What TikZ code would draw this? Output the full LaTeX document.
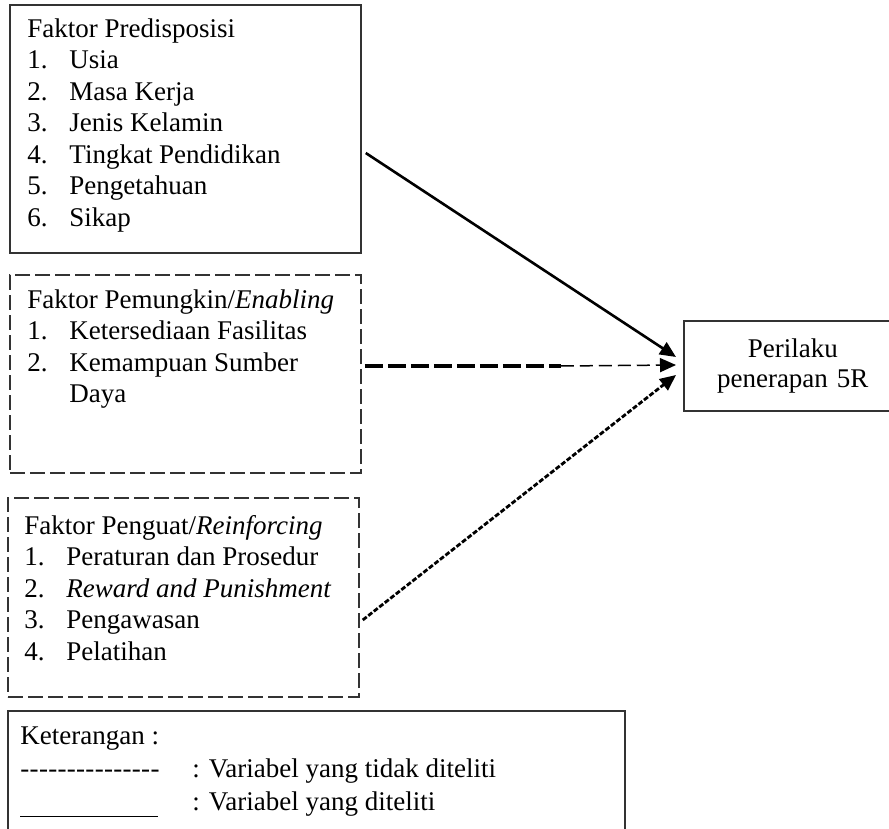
\documentclass[tikz,border=0pt]{standalone}
\usepackage{fontspec}
\setmainfont{Liberation Serif}
\usetikzlibrary{arrows.meta, positioning, calc}

\newcommand{\hy}{-\kern0.3pt}

\begin{document}
\begin{tikzpicture}[x=1pt, y=-1pt,
    every node/.style={inner sep=0pt, font=\fontsize{27}{31.5}\selectfont},
    factorbox/.style={draw=black!80, line width=1.5pt, minimum width=351pt},
    dashbox/.style={factorbox, dash pattern=on 15pt off 5pt},
    arrowtip/.style={-{Triangle[length=16pt, width=14pt]}},
  ]
  \clip (0,0) rectangle (889,829);

  % Boxes
  \node[factorbox, minimum height=248pt] (pre) at (185.5,129) {};
  \node[dashbox, minimum height=198pt] (ena) at (185.5,374) {};
  \node[dashbox, minimum height=199pt] (rei) at (183.5,597.5) {};
  \node[draw=black!80, line width=1.5pt, anchor=west, text width=260pt, align=left,
    minimum height=90pt, font=\fontsize{27}{30}\selectfont] (out) at (683,366)
    {\makebox[218pt]{Perilaku}\\\makebox[218pt]{penerapan 5R}};
  \node[draw=black!80, line width=1.5pt, minimum width=617pt, minimum height=134pt]
    (leg) at (316.5,778) {};

  % Box texts
  \node[anchor=base west] (preText) at ([xshift=18pt, yshift=-33pt]pre.north west) {%
    \begin{tabular}[t]{@{}p{42pt}@{}l@{}}
      \multicolumn{2}{@{}l@{}}{Faktor Predisposisi}\\
      1. & Usia\\
      2. & Masa Kerja\\
      3. & Jenis Kelamin\\
      4. & Tingkat Pendidikan\\
      5. & Pengetahuan\\
      6. & Sikap
    \end{tabular}};
  \node[anchor=base west] (enaText) at ([xshift=18pt, yshift=-34pt]ena.north west) {%
    \begin{tabular}[t]{@{}p{42pt}@{}l@{}}
      \multicolumn{2}{@{}l@{}}{Faktor Pemungkin/\textit{Enabling}}\\
      1. & Ketersediaan Fasilitas\\
      2. & Kemampuan Sumber\\
         & Daya
    \end{tabular}};
  \node[anchor=base west] (reiText) at ([xshift=17pt, yshift=-37pt]rei.north west) {%
    \begin{tabular}[t]{@{}p{42pt}@{}l@{}}
      \multicolumn{2}{@{}l@{}}{Faktor Penguat/\textit{Reinforcing}}\\
      1. & Peraturan dan Prosedur\\
      2. & \textit{Reward and Punishment}\\
      3. & Pengawasan\\
      4. & Pelatihan
    \end{tabular}};
  \node[anchor=base west, font=\fontsize{27}{33}\selectfont] (legText)
    at ([xshift=13pt, yshift=-34pt]leg.north west) {%
    \begin{tabular}[t]{@{}p{172pt}@{}l@{}}
      \multicolumn{2}{@{}l@{}}{Keterangan :}\\
      \hy\hy\hy\hy\hy\hy\hy\hy\hy\hy\hy\hy\hy\hy\hy & : Variabel yang tidak diteliti\\
      \rule[-7pt]{138pt}{1.2pt} & : Variabel yang diteliti
    \end{tabular}};

  % Draw arrows
  \coordinate (enaMid) at ([xshift=199pt, yshift=8pt]ena.east);
  \draw[arrowtip, line width=2.6pt]
    ([xshift=4pt, yshift=-24pt]pre.east) -- ([xshift=-7pt, yshift=9pt]out.west);
  \draw[line width=3.5pt, dash pattern=on 18pt off 5pt]
    ([xshift=3pt, yshift=8pt]ena.east) -- (enaMid);
  \draw[arrowtip, line width=1.5pt, dash pattern=on 13pt off 6pt]
    (enaMid) -- ([xshift=-7pt, yshift=1pt]out.west);
  \draw[arrowtip, line width=2.8pt, dash pattern=on 5pt off 2pt]
    ([xshift=3pt, yshift=-22.5pt]rei.east) -- ([xshift=-7pt, yshift=-9pt]out.west);
\end{tikzpicture}
\end{document}
